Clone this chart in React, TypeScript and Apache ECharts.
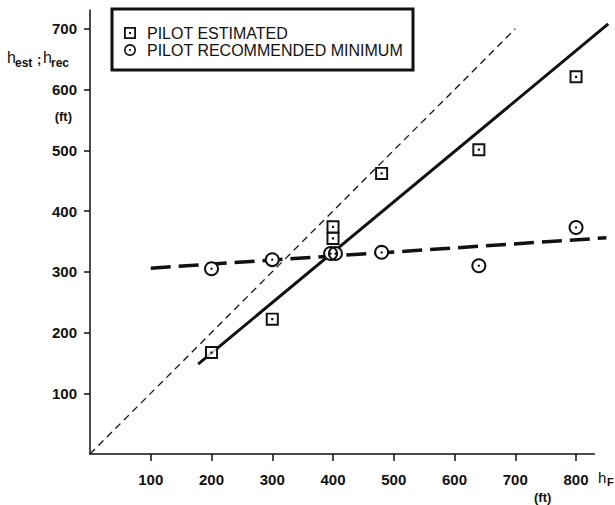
import React, { useEffect, useRef } from "react";
import * as echarts from "echarts";

const xTicks = [100, 200, 300, 400, 500, 600, 700, 800];
const yTicks = [100, 200, 300, 400, 500, 600, 700];

const estimatedX = [200, 300, 400, 400, 480, 640, 800];
const estimatedY = [167, 222, 374, 355, 462, 501, 621];

const recommendedX = [200, 300, 396, 404, 480, 640, 800];
const recommendedY = [305, 320, 330, 330, 332, 310, 373];

const equalityLine = [[0, 0], [700, 700]];
const estimatedFit = [[178, 148], [853, 708]];
const recommendedFit = [[100, 306], [850, 356]];
const xAxisExtent = [[0, 0], [831, 0]];

const SERIES_EST = "PILOT ESTIMATED";
const SERIES_REC = "PILOT RECOMMENDED MINIMUM";

const INK = "#111";
const FONT = "'Liberation Sans', Arial, Helvetica, sans-serif";

const squareIcon = "path://M0,0H12V12H0Z M1.8,1.8V10.2H10.2V1.8Z M5,5H7V7H5Z";
const circleIcon =
  "path://M7,0A7,7 0 1,1 6.99,0Z M7,1.9A5.1,5.1 0 1,0 7.01,1.9Z M7,5.9A1.1,1.1 0 1,1 6.99,5.9Z";

const zip = (xs: number[], ys: number[]) => xs.map((x, i) => [x, ys[i]]);

export default function App() {
  const ref = useRef<HTMLDivElement>(null);

  useEffect(() => {
    if (!ref.current) return;
    const chart = echarts.init(ref.current, undefined, { renderer: "svg" });
    const estData = zip(estimatedX, estimatedY);
    const recData = zip(recommendedX, recommendedY);

    const text = (x: number, y: number, t: string, size: number, weight: string, align = "left") => ({
      type: "text",
      x,
      y,
      style: {
        text: t,
        fontSize: size,
        fontWeight: weight,
        fontFamily: FONT,
        fill: INK,
        align,
        verticalAlign: "middle",
      },
    });

    chart.setOption({
      animation: false,
      backgroundColor: "#fff",
      grid: { left: 90, top: 10, right: 2.5, bottom: 51, containLabel: false, outerBoundsMode: "none" },
      legend: {
        left: 112,
        top: 9,
        orient: "vertical",
        selectedMode: false,
        borderColor: INK,
        borderWidth: 3,
        borderRadius: 0,
        padding: [15.5, 10, 11.5, 12],
        itemGap: 0,
        itemWidth: 12,
        itemHeight: 12,
        textStyle: {
          fontSize: 16,
          lineHeight: 17,
          color: INK,
          fontFamily: FONT,
          padding: [0, 0, 0, 6],
        },
        data: [
          { name: SERIES_EST, icon: squareIcon, itemStyle: { color: INK, borderWidth: 0 } },
          { name: SERIES_REC, icon: circleIcon, itemStyle: { color: INK, borderWidth: 0 } },
        ],
      },
      xAxis: {
        type: "value",
        min: 0,
        max: 860,
        interval: 100,
        splitLine: { show: false },
        axisLine: { show: false },
        axisTick: {
          show: true,
          length: 7,
          customValues: xTicks,
          lineStyle: { color: INK, width: 1.5 },
        },
        axisLabel: {
          customValues: xTicks,
          margin: 18,
          fontSize: 15,
          fontWeight: "bold",
          color: INK,
          fontFamily: FONT,
          formatter: (v: number) => (xTicks.includes(v) ? String(v) : ""),
        },
      },
      yAxis: {
        type: "value",
        min: 0,
        max: 731,
        interval: 100,
        splitLine: { show: false },
        axisLine: { show: true, lineStyle: { color: INK, width: 1.5 } },
        axisTick: {
          show: true,
          length: 6,
          customValues: yTicks,
          lineStyle: { color: INK, width: 1.5 },
        },
        axisLabel: {
          customValues: yTicks,
          margin: 13,
          fontSize: 15,
          fontWeight: "bold",
          color: INK,
          fontFamily: FONT,
          formatter: (v: number) => (yTicks.includes(v) ? String(v) : ""),
        },
      },
      series: [
        {
          name: "x-axis",
          type: "line",
          data: xAxisExtent,
          symbol: "none",
          silent: true,
          clip: false,
          z: 1,
          lineStyle: { color: INK, width: 1.5 },
        },
        {
          name: "equality",
          type: "line",
          data: equalityLine,
          symbol: "none",
          silent: true,
          clip: false,
          z: 2,
          lineStyle: { color: INK, width: 1.3, type: [7, 5] },
        },
        {
          name: "estimated fit",
          type: "line",
          data: estimatedFit,
          symbol: "none",
          silent: true,
          clip: false,
          z: 2,
          lineStyle: { color: INK, width: 3 },
        },
        {
          name: "recommended fit",
          type: "line",
          data: recommendedFit,
          symbol: "none",
          silent: true,
          clip: false,
          z: 2,
          lineStyle: { color: INK, width: 3.5, type: [20, 8] },
        },
        {
          name: "est-mask",
          type: "scatter",
          data: estData,
          symbol: "rect",
          symbolSize: 12,
          silent: true,
          z: 3,
          itemStyle: { color: "#fff" },
        },
        {
          name: "rec-mask",
          type: "scatter",
          data: recData,
          symbol: "circle",
          symbolSize: 14,
          silent: true,
          z: 3,
          itemStyle: { color: "#fff", opacity: 1 },
        },
        {
          name: SERIES_EST,
          type: "scatter",
          data: estData,
          symbol: squareIcon,
          symbolSize: 13,
          z: 4,
          itemStyle: { color: INK, opacity: 1 },
        },
        {
          name: SERIES_REC,
          type: "scatter",
          data: recData,
          symbol: circleIcon,
          symbolSize: 15,
          z: 4,
          itemStyle: { color: INK, opacity: 1 },
        },
      ],
      graphic: [
        text(7, 57, "h", 16, "normal"),
        text(15, 63, "est", 12, "bold"),
        text(37, 59, ";", 13, "bold"),
        text(43, 57, "h", 16, "normal"),
        text(51, 63, "rec", 12, "bold"),
        text(72, 116, "(ft)", 13, "bold", "right"),
        text(598, 477, "h", 15, "normal"),
        text(607, 482, "F", 11, "bold"),
        text(534, 497, "(ft)", 13, "bold"),
      ],
    });

    return () => chart.dispose();
  }, []);

  return (
    <div
      ref={ref}
      style={{ position: "fixed", left: 0, top: 0, width: 615, height: 505, background: "#fff" }}
    />
  );
}
